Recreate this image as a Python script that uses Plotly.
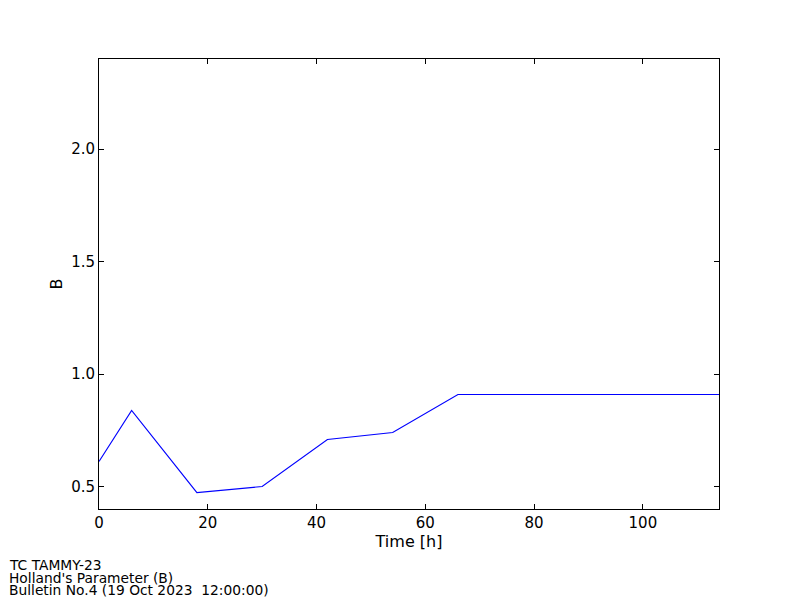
import plotly.graph_objects as go

time_h = [0, 6, 18, 30, 42, 54, 66, 78, 90, 102, 114]
b_values = [0.611, 0.838, 0.473, 0.500, 0.709, 0.740, 0.909, 0.909, 0.909, 0.909, 0.909]
footer_lines = ["TC TAMMY-23", "Holland's Parameter (B)", "Bulletin No.4 (19 Oct 2023  12:00:00)"]

fig = go.Figure()
fig.add_trace(go.Scatter(x=time_h, y=b_values, mode="lines",
                         line=dict(color="#0000ff", width=1.2), showlegend=False))

axis_common = dict(showgrid=False, zeroline=False, showline=True, linecolor="black",
                   linewidth=1, mirror="ticks", ticks="inside", ticklen=5,
                   tickcolor="black", tickwidth=1, automargin=False,
                   tickfont=dict(family="DejaVu Sans", size=15, color="black"))

fig.update_layout(
    width=800, height=600,
    paper_bgcolor="white", plot_bgcolor="white",
    margin=dict(l=99, r=81, t=59, b=91, autoexpand=False),
    xaxis=dict(range=[0, 114], tickvals=[0, 20, 40, 60, 80, 100],
               title=dict(text="Time [h]", font=dict(family="DejaVu Sans", size=16, color="black"), standoff=2),
               **axis_common),
    yaxis=dict(range=[0.4, 2.4], tickvals=[0.5, 1.0, 1.5, 2.0], tickformat=".1f",
               title=dict(text="B", font=dict(family="DejaVu Sans", size=16, color="black"), standoff=4),
               **axis_common),
    font=dict(family="DejaVu Sans", color="black"),
)

plot_w, plot_h = 620, 450
for i, line in enumerate(footer_lines):
    center_px = 565 + 12.5 * i
    fig.add_annotation(text=line, xref="paper", yref="paper",
                       x=(8 - 99) / plot_w, y=(509 - center_px) / plot_h,
                       xanchor="left", yanchor="middle", align="left",
                       showarrow=False, borderpad=0,
                       font=dict(family="DejaVu Sans", size=13.8, color="black"))

fig.write_html("out.html", config={"displayModeBar": False},
               post_script="document.body.style.margin='0px';document.body.style.overflow='hidden';")
